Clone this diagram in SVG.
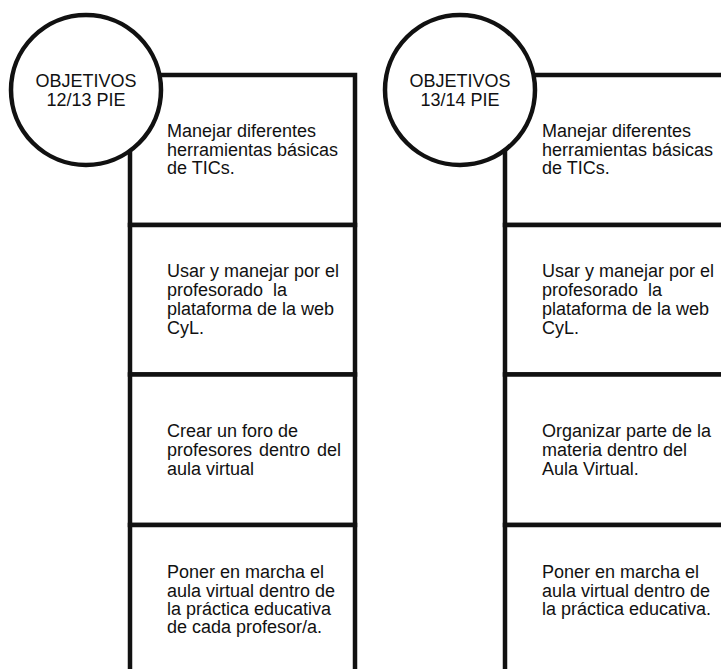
<svg xmlns="http://www.w3.org/2000/svg" width="721" height="669" viewBox="0 0 721 669">
<style>
.box{fill:#fff;stroke:#111;stroke-width:4.5}
.circ{fill:#fff;stroke:#111;stroke-width:4.5}
text{font-family:"Liberation Sans",Arial,sans-serif;font-size:18px;fill:#111}
.c{text-anchor:middle}
</style>
<rect width="721" height="669" fill="#fff"/>
<g id="connectors"/>
<!-- Left column -->
<g id="l-box1">
<rect class="box" x="130" y="75" width="225" height="150"/>
<text x="167" y="137">Manejar diferentes</text>
<text x="167" y="156">herramientas básicas</text>
<text x="167" y="174">de TICs.</text>
</g>
<g id="l-box2">
<rect class="box" x="130" y="225" width="225" height="149.5"/>
<text x="167" y="277">Usar y manejar por el</text>
<text x="167" y="296" word-spacing="5">profesorado la</text>
<text x="167" y="315">plataforma de la web</text>
<text x="167" y="334">CyL.</text>
</g>
<g id="l-box3">
<rect class="box" x="130" y="374.5" width="225" height="150.5"/>
<text x="167" y="437">Crear un foro de</text>
<text x="167" y="456" word-spacing="2">profesores dentro del</text>
<text x="167" y="475">aula virtual</text>
</g>
<g id="l-box4">
<rect class="box" x="130" y="525" width="225" height="160"/>
<text x="167" y="578">Poner en marcha el</text>
<text x="167" y="597">aula virtual dentro de</text>
<text x="167" y="615">la práctica educativa</text>
<text x="167" y="633">de cada profesor/a.</text>
</g>
<g id="l-circle">
<circle class="circ" cx="86" cy="90" r="75"/>
<text class="c" x="86" y="87">OBJETIVOS</text>
<text class="c" x="86" y="106">12/13 PIE</text>
</g>
<!-- Right column -->
<g id="r-box1">
<rect class="box" x="505" y="75" width="230" height="150"/>
<text x="542" y="137">Manejar diferentes</text>
<text x="542" y="156">herramientas básicas</text>
<text x="542" y="174">de TICs.</text>
</g>
<g id="r-box2">
<rect class="box" x="505" y="225" width="230" height="149.5"/>
<text x="542" y="277">Usar y manejar por el</text>
<text x="542" y="296" word-spacing="5">profesorado la</text>
<text x="542" y="315">plataforma de la web</text>
<text x="542" y="334">CyL.</text>
</g>
<g id="r-box3">
<rect class="box" x="505" y="374.5" width="230" height="150.5"/>
<text x="542" y="437">Organizar parte de la</text>
<text x="542" y="456">materia dentro del</text>
<text x="542" y="475">Aula Virtual.</text>
</g>
<g id="r-box4">
<rect class="box" x="505" y="525" width="230" height="160"/>
<text x="542" y="578">Poner en marcha el</text>
<text x="542" y="597">aula virtual dentro de</text>
<text x="542" y="615">la práctica educativa.</text>
</g>
<g id="r-circle">
<circle class="circ" cx="460" cy="90" r="75"/>
<text class="c" x="460" y="87">OBJETIVOS</text>
<text class="c" x="460" y="106">13/14 PIE</text>
</g>
</svg>
